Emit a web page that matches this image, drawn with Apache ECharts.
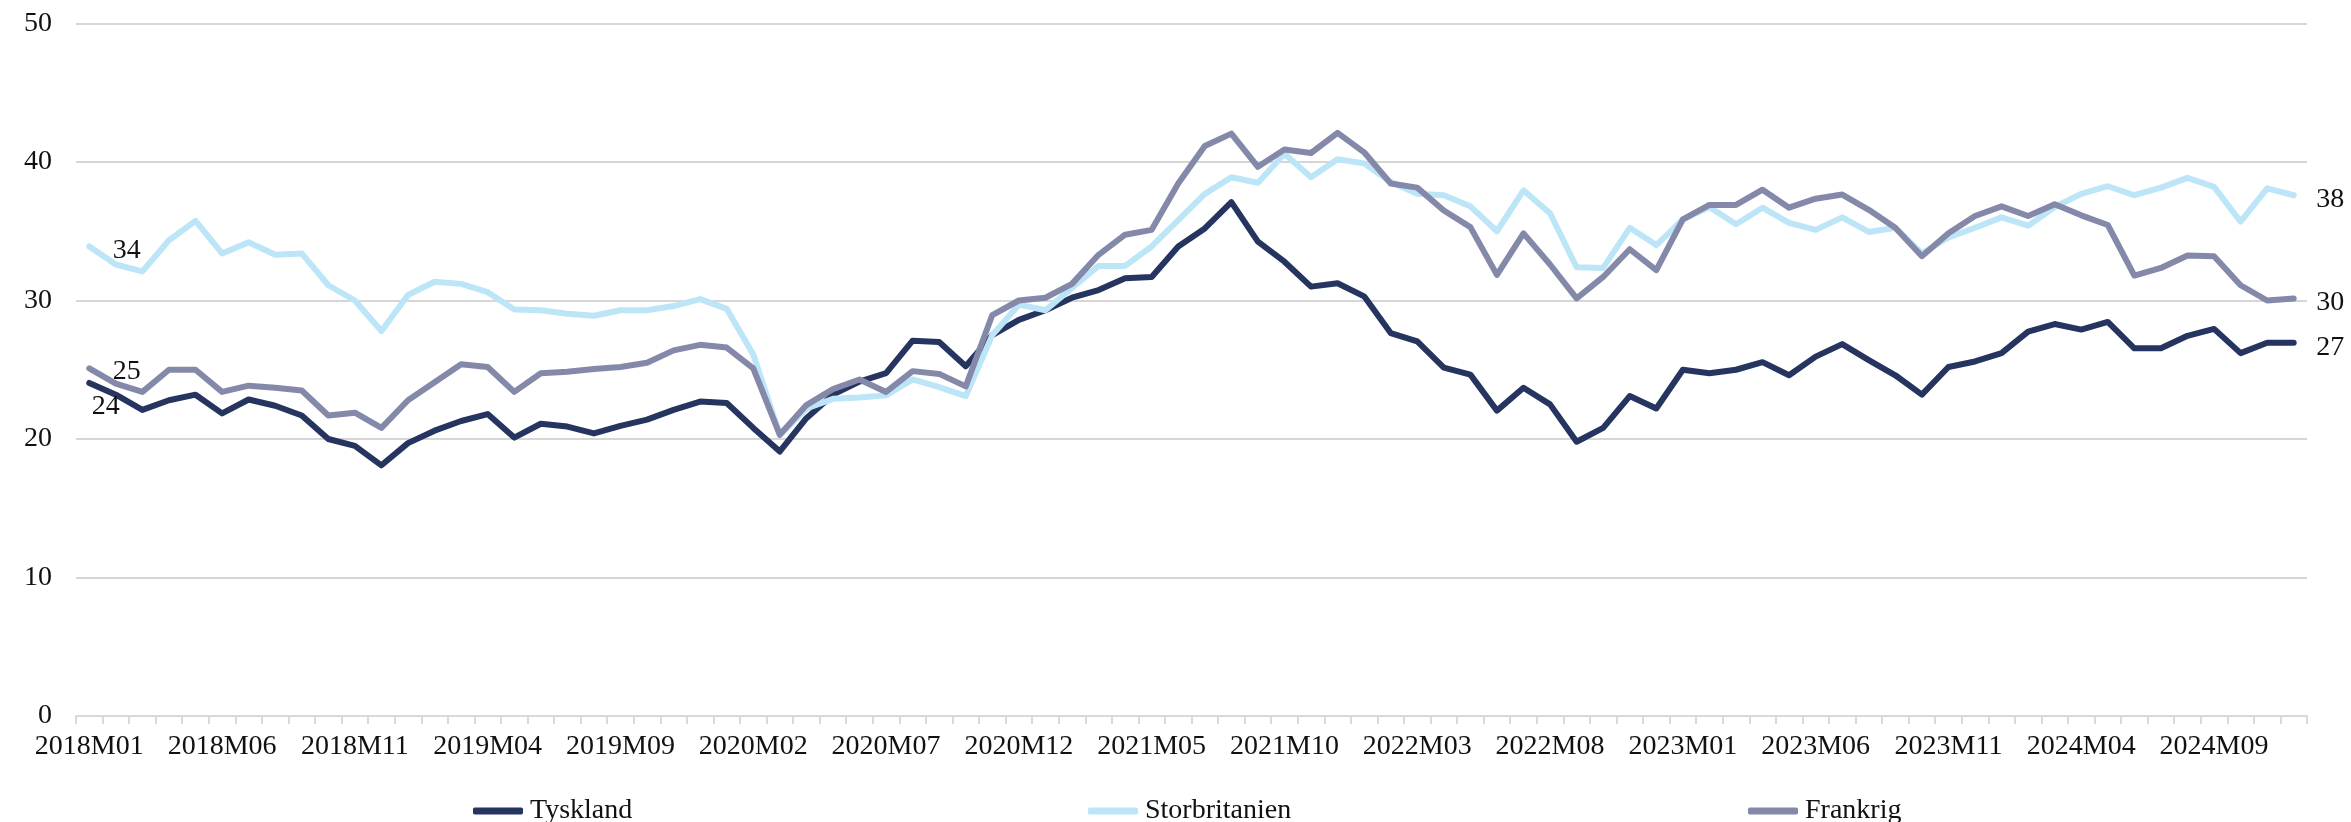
<!DOCTYPE html>
<html>
<head>
<meta charset="utf-8">
<script src="https://cdn.jsdelivr.net/npm/echarts@6/dist/echarts.min.js"></script>
<style>
html,body{margin:0;padding:0;background:#fff;}
#chart{width:2351px;height:822px;}
</style>
</head>
<body>
<div id="chart"></div>
<script>
const years = [2018, 2019, 2020, 2021, 2022, 2023, 2024];
const categories = [];
years.forEach(y => { for (let m = 1; m <= 12; m++) categories.push(y + 'M' + (m < 10 ? '0' + m : m)); });

const seriesNames = ['Tyskland', 'Storbritanien', 'Frankrig'];

const tyskland = [24.05,23.2,22.1,22.8,23.2,21.85,22.85,22.4,21.7,20.0,19.5,18.1,
  19.7,20.6,21.3,21.8,20.1,21.1,20.9,20.4,20.95,21.4,22.1,22.7,
  22.6,20.8,19.1,21.5,23.2,24.15,24.75,27.1,27.0,25.25,27.5,28.6,
  29.3,30.2,30.75,31.6,31.7,33.9,35.2,37.1,34.25,32.8,31.0,31.25,
  30.3,27.65,27.05,25.15,24.65,22.05,23.7,22.5,19.8,20.8,23.1,22.2,
  25.0,24.75,25.0,25.55,24.6,25.95,26.85,25.7,24.6,23.2,25.2,25.6,
  26.2,27.75,28.3,27.9,28.45,26.55,26.55,27.45,27.95,26.2,26.95,26.95];

const storbritanien = [33.9,32.6,32.1,34.35,35.75,33.4,34.2,33.3,33.4,31.1,30.0,27.8,
  30.4,31.35,31.2,30.6,29.35,29.3,29.05,28.9,29.3,29.3,29.6,30.1,
  29.4,26.1,20.3,22.2,22.9,23.0,23.15,24.3,23.75,23.1,27.5,29.7,
  29.3,30.9,32.5,32.5,33.9,35.8,37.7,38.9,38.5,40.6,38.9,40.2,
  39.9,38.55,37.7,37.6,36.8,35.0,37.95,36.3,32.4,32.35,35.25,34.0,
  35.85,36.75,35.5,36.7,35.6,35.1,36.0,34.95,35.25,33.4,34.55,35.25,
  36.0,35.4,36.75,37.7,38.25,37.6,38.15,38.85,38.2,35.7,38.1,37.6];

const frankrig = [25.1,24.0,23.4,25.0,25.0,23.4,23.85,23.7,23.5,21.7,21.9,20.8,
  22.8,24.1,25.4,25.2,23.4,24.75,24.85,25.05,25.2,25.5,26.4,26.8,
  26.6,25.1,20.3,22.45,23.6,24.3,23.4,24.9,24.7,23.8,28.95,30.0,
  30.2,31.2,33.3,34.75,35.1,38.45,41.15,42.05,39.65,40.9,40.65,42.1,
  40.7,38.45,38.15,36.5,35.3,31.85,34.85,32.6,30.15,31.7,33.7,32.2,
  35.85,36.9,36.9,38.0,36.7,37.35,37.65,36.55,35.25,33.2,34.85,36.1,
  36.8,36.1,36.95,36.15,35.45,31.8,32.35,33.25,33.2,31.1,30.0,30.15];

const colors = ['#26355F', '#BDE5F8', '#8589A9'];
const FONT = '"Liberation Serif", "DejaVu Serif", serif';
const labelBase = { show: true, color: '#111', fontFamily: FONT, fontSize: 28,
  align: 'left', verticalAlign: 'middle',
  formatter: p => Math.round(p.value) };

function buildData(values, firstPos) {
  const last = values.length - 1;
  return values.map((v, i) => {
    if (i === 0 || i === last) {
      const pos = i === 0 ? firstPos : [23, 5];
      return {
        value: v,
        symbol: 'circle',
        symbolSize: 1,
        itemStyle: { color: 'rgba(0,0,0,0)', borderWidth: 0 },
        label: Object.assign({}, labelBase, { position: pos })
      };
    }
    return v;
  });
}

const firstPositions = [[3, 24], [24, 5], [24, 4]];
const allValues = [tyskland, storbritanien, frankrig];

const chart = echarts.init(document.getElementById('chart'));
chart.setOption({
  animation: false,
  backgroundColor: '#fff',
  grid: { left: 76, right: 44, top: 23.5, bottom: 106, containLabel: false },
  legend: seriesNames.map((n, i) => ({
    data: [{ name: n, itemStyle: { color: colors[i] } }],
    left: [468, 1083, 1743][i],
    top: 792,
    icon: 'roundRect',
    itemWidth: 50,
    itemHeight: 7,
    itemGap: 0,
    textStyle: { fontFamily: FONT, fontSize: 28, color: '#111', padding: [0, 0, 0, 2] }
  })),
  xAxis: {
    type: 'category',
    data: categories,
    boundaryGap: true,
    axisLine: { lineStyle: { color: '#D9D9D9', width: 2 } },
    axisTick: { show: true, interval: 0, length: 8, lineStyle: { color: '#D9D9D9', width: 2 } },
    axisLabel: { interval: 4, margin: 17, color: '#111', fontFamily: FONT, fontSize: 28 },
    splitLine: { show: false }
  },
  yAxis: {
    type: 'value',
    min: 0, max: 50, interval: 10,
    axisLine: { show: false },
    axisTick: { show: false },
    axisLabel: { margin: 24, color: '#111', fontFamily: FONT, fontSize: 28 },
    splitLine: { lineStyle: { color: '#D6D6D6', width: 2 } }
  },
  series: seriesNames.map((n, i) => ({
    name: n,
    type: 'line',
    data: buildData(allValues[i], firstPositions[i]),
    symbol: 'none',
    showSymbol: true,
    color: colors[i],
    itemStyle: { color: colors[i] },
    lineStyle: { color: colors[i], width: 6, cap: 'round', join: 'round' },
    z: 2 + i
  }))
});
</script>
</body>
</html>
